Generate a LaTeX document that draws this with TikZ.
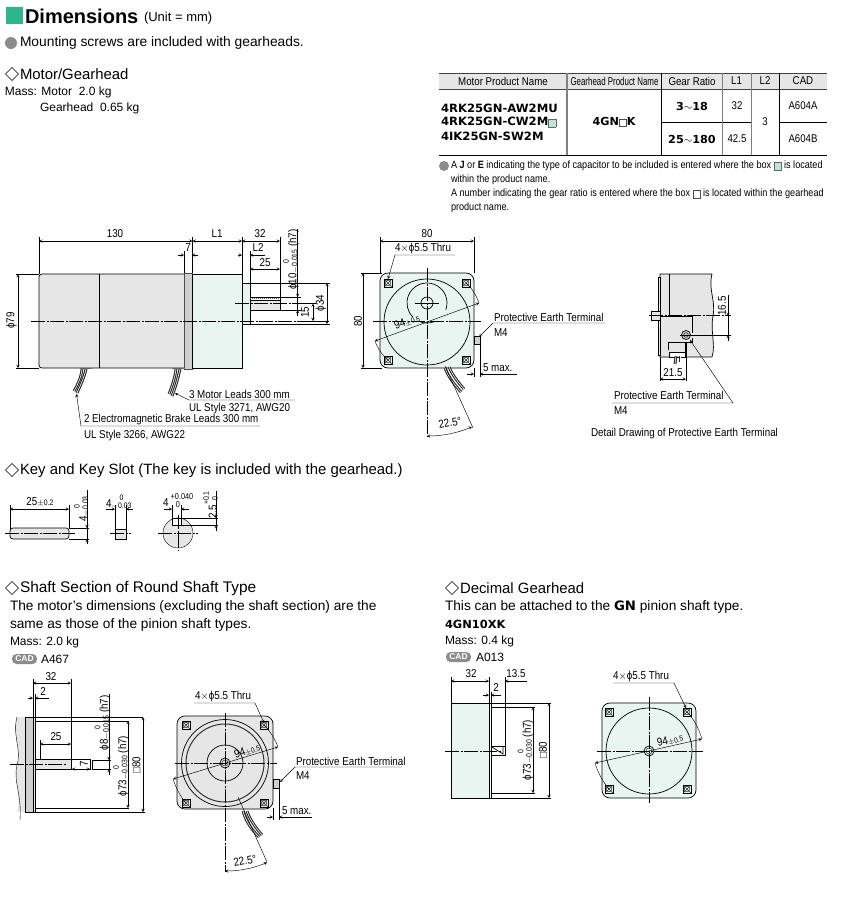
\documentclass[tikz,border=0pt]{standalone}
\usepackage{fontspec}
\usetikzlibrary{shapes.geometric}
\setmainfont{Liberation Sans}
\newfontfamily\narrowfont[FakeStretch=0.86]{Liberation Sans}
\newfontfamily\tightfont[FakeStretch=0.70]{Liberation Sans}
\newfontfamily\dejafont[FakeStretch=1.02]{DejaVu Sans}
\newcommand{\heavyfont}{\dejafont\bfseries}
\definecolor{headgreen}{HTML}{2DB58C}
\definecolor{gearfill}{HTML}{E8F5F0}
\definecolor{motorfill}{HTML}{E6E6E6}
\definecolor{flangefill}{HTML}{CFCFCF}
\definecolor{bulletgray}{HTML}{8C8C8C}
\definecolor{boxgreen}{HTML}{BFE5D8}
\setlength{\fboxsep}{0pt}
\setlength{\fboxrule}{.4pt}
\newcommand{\fs}[1]{\fontsize{#1}{#1}\selectfont}
\newcommand{\tol}[2]{\raisebox{-1pt}{\fs{8}\shortstack[c]{#1\\#2}}}
\newcommand{\greenbox}{\raisebox{-1pt}{\fcolorbox{black!60}{boxgreen}{\rule{0pt}{7pt}\hspace{7pt}}}}
\newcommand{\whitebox}{\raisebox{-1pt}{\fcolorbox{black!70}{white}{\rule{0pt}{7pt}\hspace{7pt}}}}
\begin{document}
\begin{tikzpicture}[x=1pt,y=-1pt,>=stealth,
  every node/.style={inner sep=0pt, outer sep=0pt},
  lab/.style={font=\narrowfont\fs{11.4}},
  notetext/.style={font=\narrowfont\fs{10.6},anchor=west},
  thead/.style={font=\narrowfont\fs{11.3}},
  tcell/.style={font=\narrowfont\fs{11.2}},
  tname/.style={font=\heavyfont\fs{11.4},anchor=west},
  body/.style={font=\fs{13.7},anchor=west},
  title/.style={font=\fs{14.9},anchor=west},
  small/.style={font=\fs{12},anchor=west},
  outl/.style={draw=black,line width=.7pt},
  thin line/.style={draw=black,line width=.4pt},
  dimline/.style={draw=black,line width=.45pt},
  arr/.style={dimline,<->},
  cline/.style={draw=black,line width=.45pt,dash pattern=on 14pt off 1.5pt on 2pt off 1.5pt},
  wire/.style={draw=black!85,line width=1.1pt,double=white,double distance=.6pt},
  holemark/.style={rectangle,draw=black,line width=.35pt,minimum size=8,path picture={
    \draw[line width=.35pt] (path picture bounding box.north west) -- (path picture bounding box.south east);
    \draw[line width=.35pt] (path picture bounding box.north east) -- (path picture bounding box.south west);
    \draw[line width=.35pt] (path picture bounding box.center) circle (2.8);}},
  diam/.style={diamond,draw=black,line width=.6pt,minimum size=13,aspect=1},
  bullet/.style={circle,fill=bulletgray,minimum size=12},
  cadpill/.style={fill=bulletgray,rounded corners=4.5pt,minimum width=25,minimum height=10,text=white,font=\bfseries\fs{8.5}}]
\useasboundingbox (0,0) rectangle (848,903);

% heading
\node[fill=headgreen,minimum size=17,anchor=north west] (headMark) at (6,7) {};
\node[font=\bfseries\fs{20},anchor=west] (headText) at (25,16) {Dimensions};
\node[font=\fs{13},anchor=west] (headUnit) at (144,18) {(Unit = mm)};
\node[bullet] (screwDot) at (11,43) {};
\node[font=\fs{13.8},anchor=west] (screwText) at (20,43) {Mounting screws are included with gearheads.};
\node[diam] (motorDiam) at (12,74) {};
\node[title] (motorTitle) at (20,74.5) {Motor/Gearhead};
\node[small] (massA) at (5,92) {Mass: Motor\ \ 2.0 kg};
\node[small] (massB) at (40,108) {Gearhead\ \ 0.65 kg};

% table
\fill[motorfill] (439,73) rectangle (827,89.5);
\draw[line width=.8pt,black!75] (439,73) -- (827,73);
\draw[line width=.8pt,black!75] (439,89.5) -- (827,89.5);
\draw[line width=.8pt] (439,155) -- (827,155);
\draw[line width=.8pt] (662,122) -- (751,122);
\draw[line width=.8pt] (779,122) -- (827,122);
\draw[line width=1.1pt,black!50] (567,73) -- (567,155);
\draw[line width=.8pt] (661.7,73) -- (661.7,155);
\draw[line width=1pt,black!50] (722.7,73) -- (722.7,155);
\draw[line width=1pt,black!50] (751,73) -- (751,155);
\draw[line width=.8pt] (779,73) -- (779,155);
\node[thead] (hMotor) at (503,81) {Motor Product Name};
\node[font=\tightfont\fs{11.3}] (hGear) at (614.5,81) {Gearhead Product Name};
\node[thead] (hRatio) at (692,81) {Gear Ratio};
\node[thead] (hLa) at (736.5,81) {L1};
\node[thead] (hLb) at (765,81) {L2};
\node[thead] (hCad) at (803,81) {CAD};
\node[tname] (nameA) at (441,108) {4RK25GN-AW2MU};
\node[tname] (nameB) at (441,122) {4RK25GN-CW2M\greenbox};
\node[tname] (nameC) at (441,136) {4IK25GN-SW2M};
\node[font=\heavyfont\fs{11}] (gearName) at (614,122) {4GN\whitebox K};
\node[font=\heavyfont\fs{11}] (ratioA) at (692,106) {3{\narrowfont$\sim$}18};
\node[font=\heavyfont\fs{11}] (ratioB) at (692,139) {25{\narrowfont$\sim$}180};
\node[tcell] (laA) at (737,106) {32};
\node[tcell] (laB) at (737,139) {42.5};
\node[tcell] (lbA) at (765,122) {3};
\node[tcell] (cadA) at (803,106) {A604A};
\node[tcell] (cadB) at (803,139) {A604B};

% note
\node[circle,fill=bulletgray,minimum size=10] (noteDot) at (444,166) {};
\node[notetext] (noteA) at (451,166) {A \textbf{J} or \textbf{E} indicating the type of capacitor to be included is entered where the box \greenbox\ is located};
\node[notetext] (noteB) at (451,180) {within the product name.};
\node[notetext] (noteC) at (451,194) {A number indicating the gear ratio is entered where the box \whitebox\ is located within the gearhead};
\node[notetext] (noteD) at (451,208) {product name.};

% motor side view
\draw[outl,fill=motorfill,rounded corners=3pt] (184,274) -- (39,274) -- (39,368) -- (184,368);
\draw[outl] (184,274) -- (184,368);
\draw[outl] (99.5,274) -- (99.5,368);
\draw[draw=black!70,fill=flangefill,line width=.5pt] (184,273) rectangle (192,369);
\draw[outl,fill=gearfill] (192,274) rectangle (242,368);
\draw[thin line,fill=gearfill] (242,283) rectangle (250,324);
\draw[outl,fill=motorfill] (250,297) rectangle (280,310);
\draw[thin line,fill=white] (250,297) rectangle (280,300);
\draw[line width=.3pt,black!60,dash pattern=on 1pt off 1pt] (250,298.5) -- (280,298.5);
\draw[line width=1.5pt,black!60] (80,368.5) -- (92,368.5);
\draw[line width=1.5pt,black!60] (172,368.5) -- (185,368.5);
\draw[wire] (86,369) .. controls (84,378) and (81,384) .. (77,393);
\draw[wire] (82,369) .. controls (81,378) and (78,384) .. (74,391);
\draw[wire] (180,369) .. controls (178,378) and (176,386) .. (172,396);
\draw[wire] (176,369) .. controls (175,378) and (172,386) .. (169,394);
\draw[cline] (31,321) -- (329,321);
\draw[cline] (235,303.5) -- (315,303.5);

\draw[dimline] (39,237) -- (39,274);
\draw[dimline] (192.5,237) -- (192.5,273);
\draw[dimline] (242,237) -- (242,274);
\draw[dimline] (280,237) -- (280,297);
\draw[arr] (39,241) -- (192.5,241);
\draw[arr] (192.5,241) -- (242,241);
\draw[arr] (242,241) -- (280,241);
\node[lab] (dim130) at (115,234) {130};
\node[lab] (dimLa) at (217,234) {L1};
\node[lab] (dim32) at (260,234) {32};
\draw[dimline] (184,251) -- (184,273);
\draw[dimline,->] (178,255) -- (184,255);
\draw[dimline,<-] (192,255) -- (198,255);
\node[lab] (dim7) at (188,248) {7};
\draw[dimline] (250,251) -- (250,283);
\draw[dimline,->] (238,255) -- (242,255);
\draw[dimline,<-] (250,255) -- (265,255);
\node[lab] (dimLb) at (258,248) {L2};
\draw[dimline] (250,265) -- (250,297);
\draw[arr] (250,269) -- (280,269);
\node[lab] (dim25) at (265,263) {25};
\draw[dimline] (280,297) -- (301,297);
\draw[dimline] (280,310) -- (301,310);
\draw[dimline] (297.7,229) -- (297.7,310);
\draw[dimline,->] (297.7,290) -- (297.7,297);
\draw[dimline,<-] (297.7,310) -- (297.7,316);
\node[lab,rotate=90] (dimShaft) at (291,259.5) {\char"03D5 10\tol{0}{$-$0.015} (h7)};
\draw[dimline] (310,321) -- (316,321);
\draw[dimline] (296,303.5) -- (316,303.5);
\draw[arr] (313,303.5) -- (313,321);
\node[lab,rotate=90] (dim15) at (305,312) {15};
\draw[dimline] (250,283) -- (330,283);
\draw[dimline] (250,324) -- (330,324);
\draw[arr] (327,283) -- (327,324);
\node[lab,rotate=90] (dim34) at (321,303) {\char"03D5 34};
\draw[dimline] (16,274) -- (39,274);
\draw[dimline] (16,368) -- (39,368);
\draw[arr] (18,274) -- (18,368);
\node[lab,rotate=90] (dim79) at (11.5,320.5) {\char"03D5 79};
\draw[dimline,<-] (76.5,394) -- (81,426) -- (260,426);
\node[lab,anchor=west] (leadBrake) at (84,420) {2 Electromagnetic Brake Leads 300 mm};
\node[lab,anchor=west] (leadBrakeB) at (84,436) {UL Style 3266, AWG22};
\draw[dimline,<-] (175,393) -- (189,400) -- (295,400);
\node[lab,anchor=west] (leadMotor) at (189,394) {3 Motor Leads 300 mm};
\node[lab,anchor=west] (leadMotorB) at (189,409) {UL Style 3271, AWG20};

% motor front view
\draw[outl,fill=gearfill,rounded corners=8pt] (380,273) rectangle (474,368);
\draw[outl] (427,322) circle (43);
\draw[outl] (445.8,309.8) arc[start angle=20,end angle=-225,radius=20];
\draw[outl] (420.2,321.8) arc[start angle=110,end angle=70,radius=20];
\draw[outl] (427,303) circle (6);
\draw[thin line] (415,303) -- (439,303);
\node[holemark] (holeA) at (388,283) {};
\node[holemark] (holeB) at (466,283) {};
\node[holemark] (holeC) at (388,360) {};
\node[holemark] (holeD) at (466,360) {};
\draw[cline] (427,268) -- (427,437);
\draw[cline] (373,321) -- (481,321);
\draw[dimline,<->] (375,341) -- (479,303);
\draw[thin line] (375,341) .. controls (378,349) and (382,355) .. (388,360);
\draw[thin line] (466,283) .. controls (472,288) and (476,295) .. (479,303);
\node[lab,rotate=20] (dia94) at (407,322) {94{\fs{7.5}$\pm$0.5}};
\draw[dimline] (380,237) -- (380,273);
\draw[dimline] (474,237) -- (474,273);
\draw[arr] (380,241) -- (474,241);
\node[lab] (frontTop) at (427,234) {80};
\draw[dimline,->] (455,255) -- (395,255) -- (388,279);
\node[lab,anchor=west] (frontHoles) at (395,249) {4$\times$\char"03D5 5.5 Thru};
\draw[dimline] (361,273) -- (382,273);
\draw[dimline] (361,368) -- (382,368);
\draw[arr] (363,273) -- (363,368);
\node[lab,rotate=90] (frontLeft) at (358,321.5) {80};
\draw[outl,fill=flangefill] (474.5,336) rectangle (480,344);
\draw[dimline,->] (605,323) -- (493,323) -- (479,337);
\node[lab,anchor=west] (frontEarth) at (494,317.5) {Protective Earth Terminal};
\node[lab,anchor=west] (frontMfour) at (494,333) {M4};
\draw[dimline] (480,344) -- (480,377);
\draw[dimline] (474,368) -- (474,377);
\draw[dimline,->] (467,374) -- (474,374);
\draw[dimline,<-] (480,374) -- (517,374);
\node[lab,anchor=west] (frontMax) at (483,368) {5 max.};
\draw[wire] (445,368) .. controls (449,378) and (454,384) .. (461,392);
\draw[wire] (449,367) .. controls (453,376) and (458,382) .. (464,389);
\draw[dimline] (445,366) -- (473,428);
\draw[arr] (427,436) arc[start angle=90,end angle=67,radius=115];
\node[lab,rotate=10] (frontAngle) at (450,423) {22.5°};

% detail drawing
\draw[outl,fill=motorfill] (660,274) -- (712,274) .. controls (708,290) and (716,300) .. (713,316) .. controls (710,330) and (716,345) .. (712,357) -- (660,357) -- cycle;
\draw[thin line,fill=motorfill] (658,277) rectangle (660,355);
\draw[outl] (669,274) -- (669,316);
\draw[thin line,fill=motorfill] (651,311) rectangle (660,320);
\draw[outl] (660,316) -- (692,316) -- (692,333);
\draw[outl] (668,350) -- (668,342) -- (692,342) -- (692,338);
\draw[outl] (685,342) -- (685,357);
\draw[cline] (649,315.5) -- (731,315.5);
\draw[outl,fill=flangefill] (686,335) circle (4.5);
\draw[thin line] (686,335) circle (2.3);
\draw[thin line] (680,335) -- (692,335);
\draw[thin line,fill=white] (669,352) rectangle (685,357);
\draw[wire] (676,356) -- (675,364);
\draw[wire] (680,356) -- (680,362);
\draw[dimline] (692,335) -- (731,335);
\draw[dimline] (728,295) -- (728,335);
\draw[dimline,->] (728,308) -- (728,316);
\draw[dimline,<-] (728,335) -- (728,341);
\node[lab,rotate=90] (detailUp) at (722,306) {16.5};
\draw[dimline] (660,357) -- (660,381);
\draw[dimline] (686,342) -- (686,381);
\draw[arr] (660,379) -- (686,379);
\node[lab] (detailAcross) at (673,373) {21.5};
\draw[dimline,->] (612,403) -- (733,403) -- (690,340);
\node[lab,anchor=west] (detailEarth) at (614,395.5) {Protective Earth Terminal};
\node[lab,anchor=west] (detailMfour) at (614,411) {M4};
\node[lab,anchor=west] (detailCap) at (591,433.5) {Detail Drawing of Protective Earth Terminal};

% key
\node[diam] (keyDiam) at (12,470) {};
\node[title] (keyTitle) at (20,470.5) {Key and Key Slot (The key is included with the gearhead.)};
\draw[outl,fill=motorfill,rounded corners=3pt] (69,528) -- (10,528) -- (10,539) -- (69,539) -- cycle;
\draw[cline] (5,533.5) -- (75,533.5);
\draw[dimline] (10,505) -- (10,530);
\draw[dimline] (69,505) -- (69,528);
\draw[arr] (10,509) -- (69,509);
\node[lab] (keyLen) at (40,502) {25{\fs{8}$\pm$0.2}};
\draw[dimline] (69,528) -- (89,528);
\draw[dimline] (69,539) -- (89,539);
\draw[dimline] (87,490) -- (87,544);
\draw[dimline,->] (87,522) -- (87,528);
\draw[dimline,<-] (87,539) -- (87,544);
\node[lab,rotate=90] (keyHigh) at (81.5,509) {4\tol{0}{$-$0.03}};
\draw[thin line,fill=motorfill] (115,529) rectangle (126,539);
\draw[cline] (110,533.5) -- (131,533.5);
\draw[dimline] (115,505) -- (115,529);
\draw[dimline] (126,505) -- (126,529);
\draw[dimline,->] (106,509) -- (115,509);
\draw[dimline,<-] (126,509) -- (133,509);
\node[lab,anchor=west] (keyWide) at (106,502) {4\tol{0}{$-$0.03}};
\draw[thin line,fill=motorfill] (178,533) circle (15);
\draw[thin line,fill=white] (172,525) -- (172,518) -- (181,518) -- (181,525) -- cycle;
\draw[cline] (178,515) -- (178,551);
\draw[cline] (158,533) -- (198,533);
\draw[dimline] (172,505) -- (172,525);
\draw[dimline] (181,505) -- (181,525);
\draw[dimline,->] (164,509) -- (172,509);
\draw[dimline,<-] (181,509) -- (189,509);
\node[lab,anchor=west] (slotWide) at (163,503) {4};
\node[font=\narrowfont\fs{8.5}] (slotUp) at (182,497) {+0.040};
\node[font=\narrowfont\fs{8.5}] (slotLow) at (178,505) {0};
\draw[dimline] (181,518) -- (218,518);
\draw[dimline] (181,525) -- (218,525);
\draw[dimline] (216,491) -- (216,530);
\draw[dimline,->] (216,512) -- (216,518);
\draw[dimline,<-] (216,525) -- (216,531);
\node[lab,rotate=90] (slotDeep) at (210.5,505) {2.5\tol{+0.1}{0}};

% round shaft type
\node[diam] (roundDiam) at (12,588) {};
\node[title,font=\fs{15.4}] (roundTitle) at (20,588.5) {Shaft Section of Round Shaft Type};
\node[body] (roundA) at (10,607) {The motor's dimensions (excluding the shaft section) are the};
\node[body] (roundB) at (10,625) {same as those of the pinion shaft types.};
\node[small] (roundMass) at (10,642) {Mass: 2.0 kg};
\node[cadpill] (roundPill) at (24.5,659) {CAD};
\node[small] (roundCad) at (41,659) {A467};
\draw[fill=motorfill,draw=none] (17,717) .. controls (12,735) and (22,750) .. (17,765) .. controls (13,780) and (22,795) .. (17,812) -- (25,812) -- (25,717) -- cycle;
\draw[thin line] (17,717) .. controls (12,735) and (22,750) .. (17,765) .. controls (13,780) and (22,795) .. (20,820);
\draw[thin line,fill=flangefill] (25,717) rectangle (33,812);
\draw[thin line,fill=motorfill] (33,717) rectangle (35,812);
\draw[outl] (25,717) -- (143,717);
\draw[outl] (35,721) -- (129,721);
\draw[outl] (35,808) -- (129,808);
\draw[outl] (25,812) -- (145,812);
\draw[arr] (143,717) -- (143,812);
\draw[arr] (128,721) -- (128,808);
\draw[thin line,fill=motorfill] (35,759) rectangle (71,769);
\draw[outl] (35,759) -- (90,759) -- (90,769) -- (35,769);
\draw[outl] (92,760) -- (111,760);
\draw[outl] (92,769) -- (111,769);
\draw[dimline] (92,760) -- (92,769);
\draw[cline] (10,764) -- (66,764);
\draw[dimline] (33,679) -- (33,717);
\draw[dimline] (71,679) -- (71,759);
\draw[arr] (33,683) -- (71,683);
\node[lab] (roundLen) at (51,677) {32};
\draw[dimline] (35,694) -- (35,717);
\draw[dimline,->] (28,698) -- (33,698);
\draw[dimline,<-] (35,698) -- (49,698);
\node[lab] (roundGap) at (43,692) {2};
\draw[dimline] (40,740) -- (40,759);
\draw[arr] (40,744) -- (71,744);
\node[lab] (roundKey) at (56,737) {25};
\draw[arr] (72,769) -- (90,769);
\node[lab,rotate=90] (roundFlat) at (84,764) {7};
\draw[dimline] (109,694) -- (109,769);
\draw[dimline,->] (109,753) -- (109,760);
\draw[dimline,<-] (109,769) -- (109,775);
\node[lab,rotate=90] (roundShaft) at (102.5,723) {\char"03D5 8\tol{0}{$-$0.015} (h7)};
\node[lab,rotate=90] (roundPilot) at (121,766) {\char"03D5 73\tol{0}{$-$0.030} (h7)};
\node[lab,rotate=90] (roundSquare) at (136.5,765) {\char"25A1 80};

% round shaft front view
\draw[outl,fill=motorfill,rounded corners=8pt] (177,716) rectangle (273,809);
\draw[outl] (225,763) circle (43.5);
\draw[line width=1pt,black!80] (225,763) circle (39);
\draw[outl] (225,763) circle (18);
\draw[outl] (225,763) circle (5);
\draw[thin line] (225,763) circle (3);
\node[holemark] (roundHoleA) at (186,725) {};
\node[holemark] (roundHoleB) at (264,725) {};
\node[holemark] (roundHoleC) at (186,803) {};
\node[holemark] (roundHoleD) at (264,803) {};
\draw[cline] (225,713) -- (225,872);
\draw[cline] (175,763) -- (277,763);
\draw[dimline,<->] (173,779) -- (278,747);
\draw[thin line] (173,779) .. controls (176,788) and (180,796) .. (186,803);
\draw[thin line] (264,725) .. controls (270,731) and (275,739) .. (278,747);
\node[lab,rotate=17] (roundDia) at (247,751) {94{\fs{7.5}$\pm$0.5}};
\draw[dimline,->] (194,703) -- (255,703) -- (264,723);
\node[lab,anchor=west] (roundHoles) at (195,697) {4$\times$\char"03D5 5.5 Thru};
\draw[outl,fill=flangefill] (273,779) rectangle (279,788);
\draw[dimline,->] (402,767) -- (295,767) -- (280,782);
\node[lab,anchor=west] (roundEarth) at (296,761) {Protective Earth Terminal};
\node[lab,anchor=west] (roundMfour) at (296,776) {M4};
\draw[dimline] (279,788) -- (279,820);
\draw[dimline] (273,808) -- (273,820);
\draw[dimline,->] (267,817) -- (273,817);
\draw[dimline,<-] (279,817) -- (312,817);
\node[lab,anchor=west] (roundMax) at (282,811) {5 max.};
\draw[wire] (243,811) .. controls (246,822) and (252,830) .. (259,837);
\draw[wire] (247,811) .. controls (250,820) and (256,828) .. (262,835);
\draw[dimline] (238,797) -- (267,862);
\draw[arr] (225,871) arc[start angle=90,end angle=67,radius=108];
\node[lab,rotate=10] (roundAngle) at (245,861) {22.5°};

% decimal gearhead
\node[diam] (decDiam) at (452,588) {};
\node[title] (decTitle) at (460,588.5) {Decimal Gearhead};
\node[body] (decA) at (445,607) {This can be attached to the {\heavyfont\fs{13}GN} pinion shaft type.};
\node[font=\heavyfont\fs{11.2},anchor=west] (decName) at (445,624) {4GN10XK};
\node[small] (decMass) at (445,641) {Mass: 0.4 kg};
\node[cadpill] (decPill) at (458.5,657) {CAD};
\node[small] (decCad) at (476,657) {A013};
\draw[outl,fill=gearfill] (451,703) rectangle (489,798);
\draw[outl] (491,703) -- (491,798);
\draw[outl] (489,703) -- (551,703);
\draw[outl] (491,707) -- (535,707);
\draw[outl] (491,793) -- (535,793);
\draw[outl] (489,798) -- (551,798);
\draw[arr] (549,703) -- (549,798);
\draw[arr] (533,707) -- (533,793);
\draw[outl] (491,746) -- (505,746) -- (505,755) -- (491,755);
\draw[outl] (492,747) -- (503,754) -- (503,747);
\draw[cline] (445,751) -- (501,751);
\draw[dimline] (451,677) -- (451,703);
\draw[dimline] (489,677) -- (489,703);
\draw[dimline] (505,677) -- (505,746);
\draw[arr] (451,681) -- (489,681);
\draw[dimline,<-] (505,681) -- (527,681);
\node[lab] (decLen) at (471,674) {32};
\node[lab] (decTip) at (516,674) {13.5};
\draw[dimline] (491,692) -- (491,703);
\draw[dimline,->] (483,695) -- (489,695);
\draw[dimline,<-] (491,695) -- (501,695);
\node[lab] (decGap) at (496,688) {2};
\node[lab,rotate=90] (decPilot) at (525.5,750) {\char"03D5 73\tol{0}{$-$0.030} (h7)};
\node[lab,rotate=90] (decSquare) at (543,750) {\char"25A1 80};

% decimal gearhead front view
\draw[outl,fill=gearfill,rounded corners=8pt] (602,703) rectangle (696,798);
\draw[outl] (649,751) circle (43);
\draw[outl] (649,751) circle (5);
\draw[thin line] (649,751) circle (3);
\node[holemark] (decHoleA) at (609,712) {};
\node[holemark] (decHoleB) at (687,712) {};
\node[holemark] (decHoleC) at (609,789) {};
\node[holemark] (decHoleD) at (687,789) {};
\draw[cline] (649,697) -- (649,803);
\draw[cline] (597,751) -- (703,751);
\draw[dimline,<->] (595,763) -- (702,739);
\draw[thin line] (595,763) .. controls (598,773) and (603,782) .. (609,789);
\draw[thin line] (687,712) .. controls (694,719) and (699,729) .. (702,739);
\node[lab,rotate=13] (decDia) at (670,740.5) {94{\fs{7.5}$\pm$0.5}};
\draw[dimline,->] (613,683) -- (674,683) -- (686,708);
\node[lab,anchor=west] (decHoles) at (613,677) {4$\times$\char"03D5 5.5 Thru};
\end{tikzpicture}
\end{document}
